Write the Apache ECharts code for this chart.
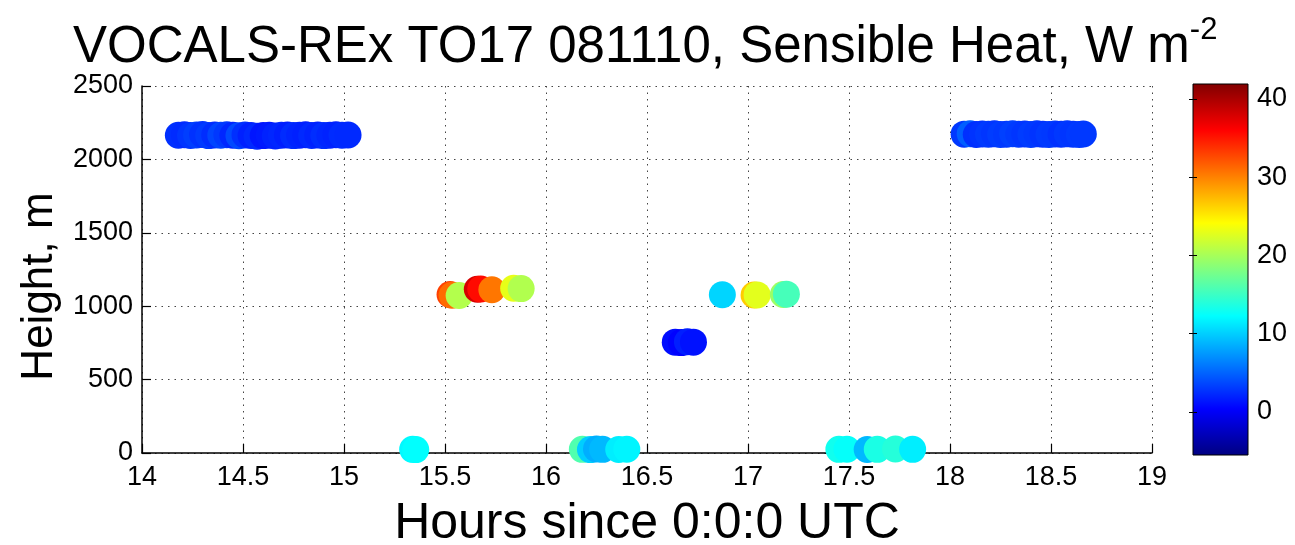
<!DOCTYPE html>
<html>
<head>
<meta charset="utf-8">
<script src="https://cdn.jsdelivr.net/npm/echarts@6/dist/echarts.min.js"></script>
<style>
  html, body { margin: 0; padding: 0; background: #fff; }
  #chart { width: 1295px; height: 545px; }
</style>
</head>
<body>
<div id="chart"></div>
<script>
// Flight TO17, 10 Nov 2008: time (h UTC), altitude (m), sensible heat flux (W m-2)
const flightHours = [
  // upper leg, ~2165 m
  14.18, 14.21, 14.24, 14.27, 14.30, 14.33, 14.36, 14.39, 14.42, 14.45,
  14.48, 14.51, 14.54, 14.57, 14.60, 14.63, 14.66, 14.69, 14.72, 14.75,
  14.78, 14.81, 14.84, 14.87, 14.90, 14.93, 14.96, 14.99, 15.02,
  // near-surface leg
  15.34, 15.355,
  // mid-level legs
  15.525, 15.535, 15.57, 15.66, 15.677, 15.732, 15.84, 15.877,
  // near-surface leg
  16.18, 16.22, 16.25, 16.28, 16.36, 16.40,
  // 750 m leg
  16.64, 16.67, 16.70, 16.73,
  // mid-level legs
  16.873, 17.03, 17.045, 17.175, 17.19,
  // near-surface leg
  17.45, 17.49, 17.59, 17.64, 17.73, 17.815,
  // upper leg, ~2170 m
  18.07, 18.10, 18.13, 18.16, 18.19, 18.22, 18.25, 18.28, 18.31, 18.34,
  18.37, 18.40, 18.43, 18.46, 18.49, 18.52, 18.55, 18.58, 18.61, 18.64, 18.66
];
const altitudes = [
  2165, 2168, 2163, 2166, 2170, 2162, 2166, 2164, 2168, 2165,
  2161, 2167, 2163, 2158, 2162, 2165, 2160, 2164, 2166, 2162,
  2165, 2168, 2163, 2166, 2162, 2165, 2168, 2164, 2166,
  25, 23,
  1080, 1075, 1073, 1115, 1117, 1112, 1122, 1120,
  25, 23, 27, 25, 24, 26,
  755, 752, 758, 755,
  1078, 1076, 1077, 1080, 1082,
  25, 26, 24, 25, 27, 25,
  2172, 2175, 2170, 2173, 2171, 2174, 2170, 2172, 2175, 2171,
  2173, 2170, 2174, 2172, 2170, 2173, 2171, 2174, 2172, 2170, 2173
];
const sensibleHeat = [
  2.6, 2.4, 2.9, 3.3, 2.7, 3.1, 2.5, 3.6, 3.0, 2.2,
  3.8, 2.6, 1.9, 2.3, 1.4, 1.6, 2.0, 2.2, 1.8, 2.4,
  2.1, 1.9, 2.3, 2.0, 2.5, 2.2, 2.0, 2.4, 2.3,
  12.0, 12.3,
  33.0, 31.0, 20.6, 38.0, 35.5, 30.5, 23.0, 20.5,
  16.0, 10.0, 8.5, 9.0, 11.5, 11.8,
  1.0, 0.5, 1.8, 1.2,
  10.3, 26.5, 22.8, 19.5, 15.5,
  13.0, 12.5, 9.0, 13.5, 14.0, 11.5,
  3.0, 4.8, 2.6, 2.8, 3.1, 2.9, 3.2, 3.0, 3.4, 3.1,
  2.9, 3.2, 3.0, 2.8, 3.1, 3.0, 2.7, 3.0, 2.9, 3.1, 3.0
];

// axis ticks and colour scale
const hourTicks = { min: 14, max: 19, step: 0.5 };
const heightTicks = { min: 0, max: 2500, step: 500 };
const colorRange = [-5.5, 41.9];
const colorTicks = [0, 10, 20, 30, 40];

// jet colormap, evenly spaced stops
const jet = ['#000080', '#0000ff', '#0080ff', '#00ffff', '#80ff80',
             '#ffff00', '#ff8000', '#ff0000', '#800000'];

const FONT = 'Liberation Sans, Arial, Helvetica, sans-serif';

const points = flightHours.map((h, i) => [h, altitudes[i], sensibleHeat[i]]);

const chart = echarts.init(document.getElementById('chart'), null, { renderer: 'canvas' });

const dotted = { type: [1.5, 5], color: '#444', width: 1 };

chart.setOption({
  animation: false,
  backgroundColor: '#fff',
  title: {
    left: 68,
    top: 10,
    text: '{m|VOCALS-REx TO17 081110, Sensible Heat, W m}{s|-2}',
    textStyle: {
      fontWeight: 'normal',
      rich: {
        m: { fontFamily: FONT, fontSize: 51, fontWeight: 'normal', color: '#000', lineHeight: 58, verticalAlign: 'bottom' },
        s: { fontFamily: FONT, fontSize: 31, fontWeight: 'normal', color: '#000', lineHeight: 58, verticalAlign: 'top' }
      }
    }
  },
  grid: [
    { left: 142, top: 86, width: 1010, height: 367, outerBoundsMode: 'none', containLabel: false },
    { left: 1193, top: 84, width: 55, height: 371, outerBoundsMode: 'none', containLabel: false }
  ],
  xAxis: [
    {
      gridIndex: 0, type: 'value',
      min: hourTicks.min, max: hourTicks.max, interval: hourTicks.step,
      name: 'Hours since 0:0:0 UTC', nameLocation: 'middle', nameGap: 46,
      nameTextStyle: { fontFamily: FONT, fontSize: 50, color: '#000' },
      axisLine: { lineStyle: { color: '#000', width: 1.5 } },
      axisTick: { inside: true, length: 9, lineStyle: { color: '#000', width: 1.2 } },
      axisLabel: { fontFamily: FONT, fontSize: 27, color: '#000', margin: 11 },
      splitLine: { show: true, lineStyle: dotted }
    },
    { gridIndex: 1, type: 'value', min: 0, max: 1, show: false }
  ],
  yAxis: [
    {
      gridIndex: 0, type: 'value',
      min: heightTicks.min, max: heightTicks.max, interval: heightTicks.step,
      name: 'Height, m', nameLocation: 'middle', nameGap: 56,
      nameTextStyle: { fontFamily: FONT, fontSize: 44, color: '#000', padding: [0, 34, 0, 0] },
      axisLine: { show: true, lineStyle: { color: '#000', width: 1.5 } },
      axisTick: { show: true, inside: true, length: 9, lineStyle: { color: '#000', width: 1.2 } },
      axisLabel: { fontFamily: FONT, fontSize: 27, color: '#000', margin: 9, formatter: v => String(v) },
      splitLine: { show: true, lineStyle: dotted }
    },
    {
      gridIndex: 1, type: 'value', position: 'right', z: 5,
      min: colorRange[0], max: colorRange[1],
      axisLine: { show: false },
      axisTick: { show: true, inside: true, length: 4, customValues: colorTicks,
                  lineStyle: { color: '#000', width: 1 } },
      axisLabel: { fontFamily: FONT, fontSize: 27, color: '#000', margin: 9, customValues: colorTicks },
      splitLine: { show: false }
    },
    {
      gridIndex: 1, type: 'value', position: 'left', z: 5,
      min: colorRange[0], max: colorRange[1],
      axisLine: { show: false },
      axisTick: { show: true, inside: true, length: 4, customValues: colorTicks,
                  lineStyle: { color: '#000', width: 1 } },
      axisLabel: { show: false },
      splitLine: { show: false }
    }
  ],
  visualMap: {
    type: 'continuous', show: false, seriesIndex: 0, dimension: 2,
    min: colorRange[0], max: colorRange[1],
    inRange: { color: jet }
  },
  series: [
    {
      type: 'scatter', xAxisIndex: 0, yAxisIndex: 0,
      symbol: 'circle', symbolSize: 27,
      itemStyle: { opacity: 1 },
      data: points
    },
    {
      // colour bar
      type: 'custom', xAxisIndex: 1, yAxisIndex: 1, z: 1, silent: true,
      data: [[0, colorRange[0], colorRange[1]]],
      renderItem: (params, api) => {
        const p0 = api.coord([0, api.value(1)]);
        const p1 = api.coord([1, api.value(2)]);
        return {
          type: 'rect',
          shape: { x: p0[0], y: p1[1], width: p1[0] - p0[0], height: p0[1] - p1[1] },
          style: {
            fill: new echarts.graphic.LinearGradient(0, 1, 0, 0,
              jet.map((c, i) => ({ offset: i / (jet.length - 1), color: c }))),
            stroke: '#000',
            lineWidth: 1
          }
        };
      }
    }
  ]
});
</script>
</body>
</html>
